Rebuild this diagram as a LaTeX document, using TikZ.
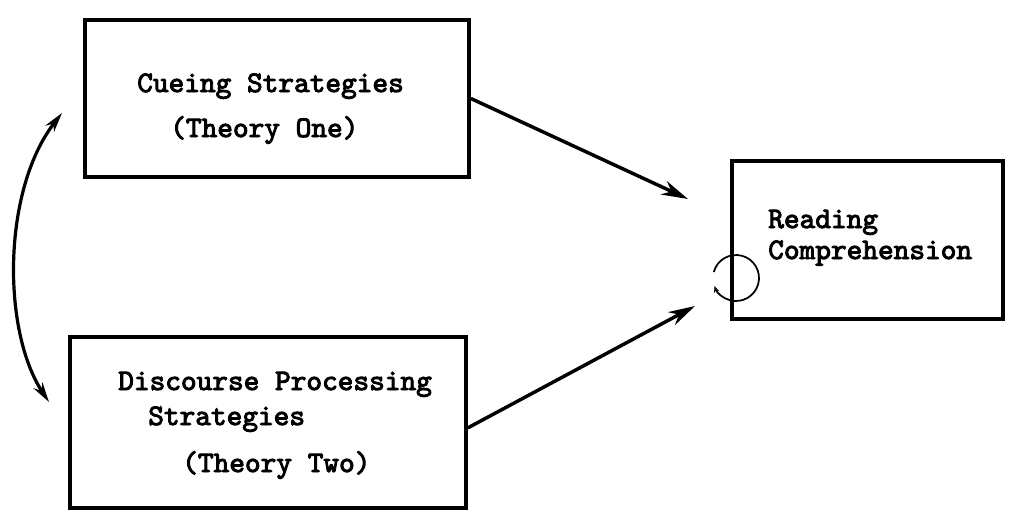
\documentclass[tikz,border=0pt]{standalone}
\usepackage{fontspec}
\usepackage{tikz}
\usetikzlibrary{arrows.meta}
\newfontfamily\typefont{lmmono10-regular.otf}[FakeBold=3.2]

\begin{document}
\begin{tikzpicture}[x=0.75pt,y=-0.75pt,
  boxed/.style={draw,line width=2.8pt,inner sep=0pt},
  txt/.style={anchor=base west,inner sep=0pt,font=\typefont\fontsize{22.4}{26}\selectfont},
  arr/.style={line width=2.6pt,-{Stealth[length=20pt,width=11pt]}}]
\useasboundingbox (0,0) rectangle (1013,519);
% The boxes
\node[boxed,minimum width=288pt,minimum height=117.75pt] (cue) at (277,98.5) {};
\node[boxed,minimum width=297pt,minimum height=128.25pt] (dis) at (268,422.5) {};
\node[boxed,minimum width=203.25pt,minimum height=118.5pt] (rc) at (867.5,240) {};
% The texts
\node[txt] (cue1) at (137,92) {Cueing Strategies};
\node[txt] (cue2) at (170,137) {(Theory One)};
\node[txt] (dis1) at (118,390) {Discourse Processing};
\node[txt] (dis2) at (148,425) {Strategies};
\node[txt] (dis3) at (182,472) {(Theory Two)};
\node[txt] (rc1) at (768,228) {Reading};
\node[txt] (rc2) at (768,259) {Comprehension};
% The paths
\coordinate (tip1) at (688,199);
\coordinate (tip2) at (695,306);
\draw[arr] (cue.east) -- (tip1);
\draw[arr] ([yshift=-4pt]dis.east) -- (tip2);
% The correlation
\coordinate (up) at (62,113);
\coordinate (down) at (49,402);
\draw[line width=2.4pt,{Stealth[length=15pt,width=8pt]}-{Stealth[length=15pt,width=8pt]}]
  (up) .. controls (2,190) and (2,331) .. (down);
% The loop
\coordinate (loop) at (736,278);
\draw[line width=1.3pt,-{Stealth[length=5pt,width=4pt]}] ([shift={(195:23)}]loop) arc (195:520:23);
\end{tikzpicture}
\end{document}
